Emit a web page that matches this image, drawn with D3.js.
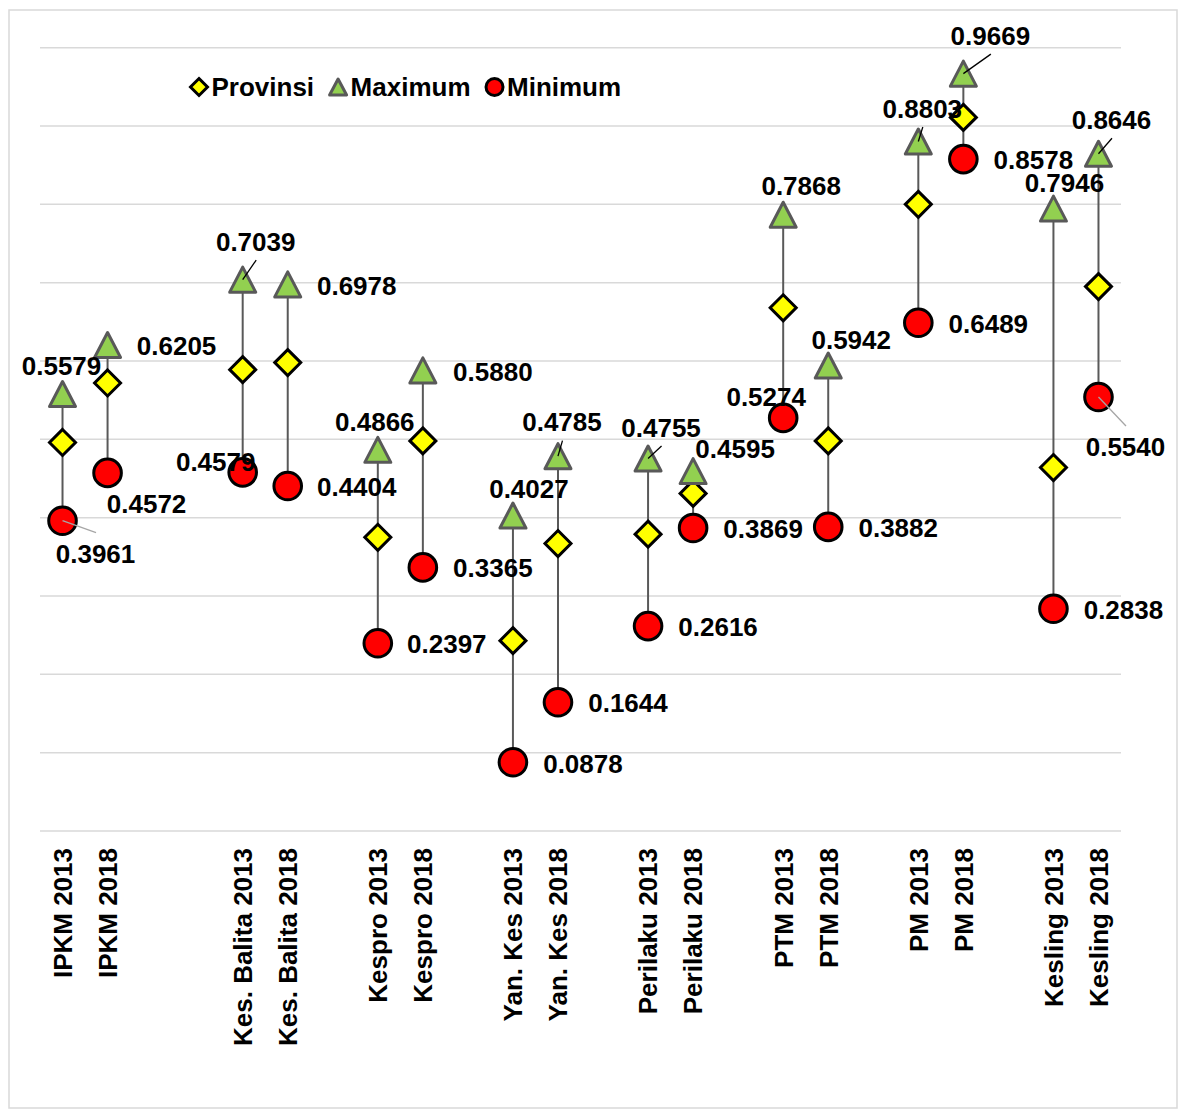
<!DOCTYPE html>
<html>
<head>
<meta charset="utf-8">
<script src="https://cdn.jsdelivr.net/npm/d3@7"></script>
<style>
    body { margin: 0; background: #fff; }
    svg text { font-family: "Liberation Sans", Arial, sans-serif; font-weight: bold; fill: #000; }
</style>
</head>
<body>
<svg id="chart" width="1179" height="1110"></svg>
<script>
// data
var categories = [
    "IPKM 2013", "IPKM 2018",
    "Kes. Balita 2013", "Kes. Balita 2018",
    "Kespro 2013", "Kespro 2018",
    "Yan. Kes 2013", "Yan. Kes 2018",
    "Perilaku 2013", "Perilaku 2018",
    "PTM 2013", "PTM 2018",
    "PM 2013", "PM 2018",
    "Kesling 2013", "Kesling 2018"
];
var provinsi = [0.496, 0.572, 0.589, 0.598, 0.375, 0.498, 0.243, 0.367,
                0.379, 0.431, 0.668, 0.498, 0.800, 0.911, 0.464, 0.695];
var maximum = [0.5579, 0.6205, 0.7039, 0.6978, 0.4866, 0.5880, 0.4027, 0.4785,
               0.4755, 0.4595, 0.7868, 0.5942, 0.8803, 0.9669, 0.7946, 0.8646];
var minimum = [0.3961, 0.4572, 0.4579, 0.4404, 0.2397, 0.3365, 0.0878, 0.1644,
               0.2616, 0.3869, 0.5274, 0.3882, 0.6489, 0.8578, 0.2838, 0.5540];
var yTicks = [0, 0.1, 0.2, 0.3, 0.4, 0.5, 0.6, 0.7, 0.8, 0.9, 1.0];
var seriesNames = ["Provinsi", "Maximum", "Minimum"];

// layout (empty slots after each pair, label offsets from the marker)
var gapSlots = [2, 1, 1, 1, 1, 1, 1];
var maxLabelPos = [
    [-1, -28, 0], [69, 1, 0], [13, -38, 1], [69, 1, 0],
    [-3, -28, 0], [70, 1, 0], [16, -27, 0], [4, -34, 1],
    [13, -31, 1], [42, -22, 0], [18, -29, 0], [23, -26, 0],
    [4, -33, 1], [27, -38, 1], [11, -26, 0], [13, -34, 1]
];
var minLabelPos = [
    [33, 33, 1], [39, 31, 0], [-27, -10, 0], [69, 1, 0],
    [69, 1, 0], [70, 0, 0], [70, 2, 0], [70, 1, 0],
    [70, 1, 0], [70, 1, 0], [-17, -21, 0], [70, 1, 0],
    [70, 1, 0], [70, 1, 0], [70, 1, 0], [27, 50, 1]
];

var width = 1179, height = 1110;
var plot = {left: 40, right: 1121, top: 47.7, bottom: 831};

var slots = [];
categories.forEach(function(c, i) {
    slots.push(c);
    var pair = (i - 1) / 2;
    if (i % 2 == 1 && pair < gapSlots.length) {
        for (var g = 0; g < gapSlots[pair]; g++) slots.push("_gap" + i + "_" + g);
    }
});

var x = d3.scaleBand().domain(slots).range([plot.left, plot.right]).padding(0);
var y = d3.scaleLinear().domain([0, 1]).range([plot.bottom, plot.top]);
var cx = function(i) { return x(categories[i]) + x.bandwidth() / 2; };
var fmt = d3.format(".4f");

var svg = d3.select("#chart");

// outer border
svg.append("rect")
    .attr("x", 9).attr("y", 10)
    .attr("width", 1168).attr("height", 1098)
    .attr("fill", "#fff")
    .attr("stroke", "#d9d9d9")
    .attr("stroke-width", 1.5);

// gridlines
svg.append("g")
    .selectAll("line")
    .data(yTicks)
    .join("line")
    .attr("x1", plot.left).attr("x2", plot.right)
    .attr("y1", d => y(d)).attr("y2", d => y(d))
    .attr("stroke", "#d9d9d9")
    .attr("stroke-width", 1.5);

// high-low lines
svg.append("g")
    .selectAll("line")
    .data(categories)
    .join("line")
    .attr("x1", (d, i) => cx(i)).attr("x2", (d, i) => cx(i))
    .attr("y1", (d, i) => y(maximum[i]))
    .attr("y2", (d, i) => y(minimum[i]))
    .attr("stroke", "#595959")
    .attr("stroke-width", 2);

function diamondPath(s) {
    return "M0," + (-s) + "L" + s + ",0L0," + s + "L" + (-s) + ",0Z";
}
function trianglePath(w, h) {
    return "M0," + (-h) + "L" + w + "," + h + "L" + (-w) + "," + h + "Z";
}

// Provinsi
svg.append("g")
    .selectAll("path")
    .data(provinsi)
    .join("path")
    .attr("transform", (d, i) => "translate(" + cx(i) + "," + y(d) + ")")
    .attr("d", diamondPath(13))
    .attr("fill", "#ffff00")
    .attr("stroke", "#000")
    .attr("stroke-width", 3)
    .attr("stroke-linejoin", "miter");

// Maximum
svg.append("g")
    .selectAll("path")
    .data(maximum)
    .join("path")
    .attr("transform", (d, i) => "translate(" + cx(i) + "," + y(d) + ")")
    .attr("d", trianglePath(13, 12.5))
    .attr("fill", "#92d050")
    .attr("stroke", "#595959")
    .attr("stroke-width", 3)
    .attr("stroke-linejoin", "round");

// Minimum
svg.append("g")
    .selectAll("circle")
    .data(minimum)
    .join("circle")
    .attr("cx", (d, i) => cx(i))
    .attr("cy", d => y(d))
    .attr("r", 13.8)
    .attr("fill", "#ff0000")
    .attr("stroke", "#000")
    .attr("stroke-width", 3);

// leader lines + data labels
function drawLabels(values, pos, leaderColor) {
    var g = svg.append("g");
    values.forEach(function(v, i) {
        var mx = cx(i), my = y(v);
        var lx = mx + pos[i][0], ly = my + pos[i][1];
        if (pos[i][2]) {
            g.append("line")
                .attr("x1", mx).attr("y1", my)
                .attr("x2", lx + 0.5).attr("y2", pos[i][1] < 0 ? ly + 18.5 : ly - 21)
                .attr("stroke", leaderColor)
                .attr("stroke-width", 1.3);
        }
        g.append("text")
            .attr("x", lx).attr("y", ly)
            .attr("dy", "0.35em")
            .attr("text-anchor", "middle")
            .style("font-size", "26px")
            .text(fmt(v));
    });
}
drawLabels(maximum, maxLabelPos, "#000");
drawLabels(minimum, minLabelPos, "#a6a6a6");

// category labels
svg.append("g")
    .selectAll("text")
    .data(categories)
    .join("text")
    .attr("transform", (d, i) => "translate(" + cx(i) + "," + (plot.bottom + 17) + ") rotate(-90)")
    .attr("text-anchor", "end")
    .attr("dy", "0.36em")
    .style("font-size", "26px")
    .text(d => d);

// legend
var legend = svg.append("g").attr("transform", "translate(189,87)");
var lx = 0;
seriesNames.forEach(function(name, k) {
    var item = legend.append("g").attr("transform", "translate(" + (lx + 10) + ",0)");
    if (k == 0) {
        item.append("path").attr("d", diamondPath(8.5))
            .attr("fill", "#ffff00").attr("stroke", "#000").attr("stroke-width", 3);
    } else if (k == 1) {
        item.append("path").attr("d", trianglePath(8.5, 8))
            .attr("fill", "#92d050").attr("stroke", "#595959").attr("stroke-width", 3)
            .attr("stroke-linejoin", "round");
    } else {
        item.append("circle").attr("r", 8.5)
            .attr("fill", "#ff0000").attr("stroke", "#000").attr("stroke-width", 3);
    }
    var t = legend.append("text")
        .attr("x", lx + 22.5).attr("y", 0)
        .attr("dy", "0.35em")
        .style("font-size", "26px")
        .text(name);
    lx += 22.5 + t.node().getComputedTextLength() + 14;
});
</script>
</body>
</html>
